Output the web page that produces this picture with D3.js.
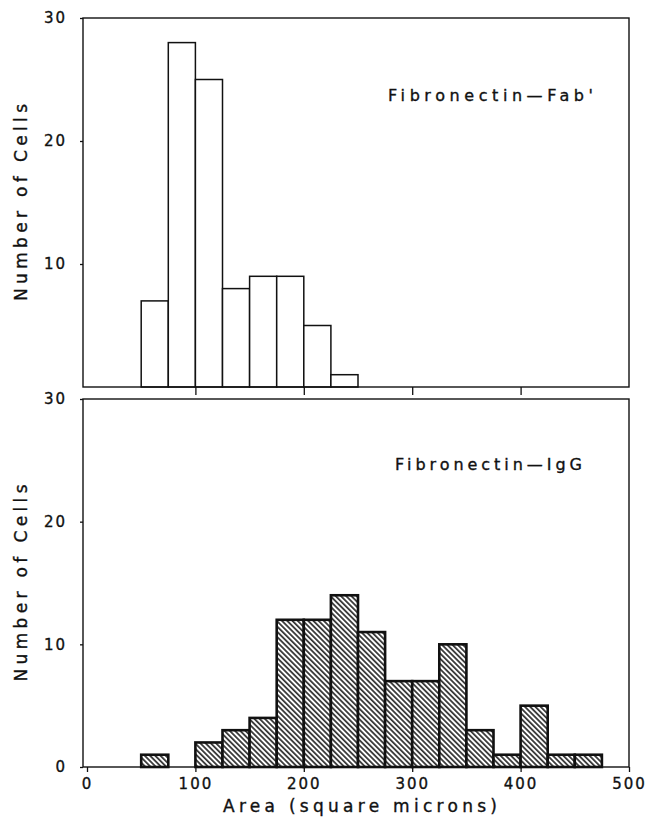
<!DOCTYPE html>
<html>
<head>
<meta charset="utf-8">
<script src="https://cdn.jsdelivr.net/npm/d3@7"></script>
<style>
  body { margin: 0; background: #fff; }
  text { font-family: "DejaVu Sans", sans-serif; fill: #111; stroke: #111; stroke-width: 0.35px; }
</style>
</head>
<body>
<div id="chart"></div>
<script>
// bin starts (square microns), each bin is 25 wide
var binWidth = 25
var fabBins = [50, 75, 100, 125, 150, 175, 200, 225]
var fabCounts = [7, 28, 25, 8, 9, 9, 5, 1]
var iggBins = [50, 100, 125, 150, 175, 200, 225, 250, 275, 300, 325, 350, 375, 400, 425, 450]
var iggCounts = [1, 2, 3, 4, 12, 12, 14, 11, 7, 7, 10, 3, 1, 5, 1, 1]

var xTicks = [0, 100, 200, 300, 400, 500]
var topXTicks = [100, 200, 300, 400]
var topYTicks = [10, 20, 30]
var botYTicks = [0, 10, 20, 30]

var width = 649, height = 817
var frameLeft = 83, frameRight = 629

var svg = d3.select('#chart').append('svg').attr('width', width).attr('height', height)

var defs = svg.append('defs')
var pat = defs.append('pattern').attr('id', 'hatch')
  .attr('patternUnits', 'userSpaceOnUse')
  .attr('width', 3.7).attr('height', 10)
  .attr('patternTransform', 'rotate(-45)')
pat.append('rect').attr('width', 3.7).attr('height', 10).attr('fill', '#fff')
pat.append('line').attr('x1', 0.9).attr('x2', 0.9).attr('y1', 0).attr('y2', 10)
  .attr('stroke', '#111').attr('stroke-width', 1.5)

var x = d3.scaleLinear().domain([0, 500]).range([87, 629])
var yTop = d3.scaleLinear().domain([0, 30]).range([387, 18])
var yBot = d3.scaleLinear().domain([0, 30]).range([767, 399])

function panel(yScale, bins, counts, yTicks, fill, strokeW, label, labelPos, labelLen) {
  var g = svg.append('g')
  // bars
  g.selectAll('rect.bar')
    .data(bins)
    .enter().append('rect')
    .attr('class', 'bar')
    .attr('x', function(d) { return x(d) })
    .attr('width', function(d) { return x(d + binWidth) - x(d) })
    .attr('y', function(d, i) { return yScale(counts[i]) })
    .attr('height', function(d, i) { return yScale(0) - yScale(counts[i]) })
    .attr('fill', fill)
    .attr('stroke', '#111')
    .attr('stroke-width', strokeW)

  // frame
  g.append('rect')
    .attr('x', frameLeft).attr('y', yScale(30))
    .attr('width', frameRight - frameLeft).attr('height', yScale(0) - yScale(30))
    .attr('fill', 'none').attr('stroke', '#111').attr('stroke-width', 1.4)

  var ya = g.append('g').attr('transform', 'translate(' + frameLeft + ',0)')
    .call(d3.axisLeft(yScale).tickValues(yTicks).tickSize(3).tickPadding(13))
  ya.select('.domain').remove()
  ya.selectAll('text').style('font-size', '15px').style('letter-spacing', '2px')
  ya.selectAll('line').attr('stroke', '#111').attr('stroke-width', 1.3)

  g.append('text')
    .attr('x', labelPos[0]).attr('y', labelPos[1])
    .attr('textLength', labelLen).attr('lengthAdjust', 'spacing')
    .style('font-size', '16px')
    .text(label)

  var cy = (yScale(0) + yScale(30)) / 2
  g.append('text')
    .attr('transform', 'translate(27,' + cy + ') rotate(-90)')
    .attr('text-anchor', 'middle')
    .attr('textLength', 197).attr('lengthAdjust', 'spacing')
    .style('font-size', '17px')
    .text('Number of Cells')
  return g
}

var topPanel = panel(yTop, fabBins, fabCounts, topYTicks, '#fff', 1.5, "Fibronectin\u2014Fab'", [388, 101], 205)
var xa1 = topPanel.append('g').attr('transform', 'translate(0,' + yTop(0) + ')')
  .call(d3.axisBottom(x).tickValues(topXTicks).tickSize(8).tickFormat(''))
xa1.select('.domain').remove()
xa1.selectAll('line').attr('stroke', '#111').attr('stroke-width', 1.3)

var botPanel = panel(yBot, iggBins, iggCounts, botYTicks, 'url(#hatch)', 2.6, 'Fibronectin\u2014IgG', [395, 470], 187)
var xa2 = botPanel.append('g').attr('transform', 'translate(0,' + yBot(0) + ')')
  .call(d3.axisBottom(x).tickValues(xTicks).tickSize(5).tickPadding(6))
xa2.select('.domain').remove()
xa2.selectAll('text').style('font-size', '15px').style('letter-spacing', '2px')
xa2.selectAll('line').attr('stroke', '#111').attr('stroke-width', 1.3)

botPanel.append('text')
  .attr('x', (x(0) + x(500)) / 2 + 2).attr('y', 812)
  .attr('text-anchor', 'middle')
  .attr('textLength', 274).attr('lengthAdjust', 'spacing')
  .style('font-size', '17px')
  .text('Area (square microns)')
</script>
</body>
</html>
